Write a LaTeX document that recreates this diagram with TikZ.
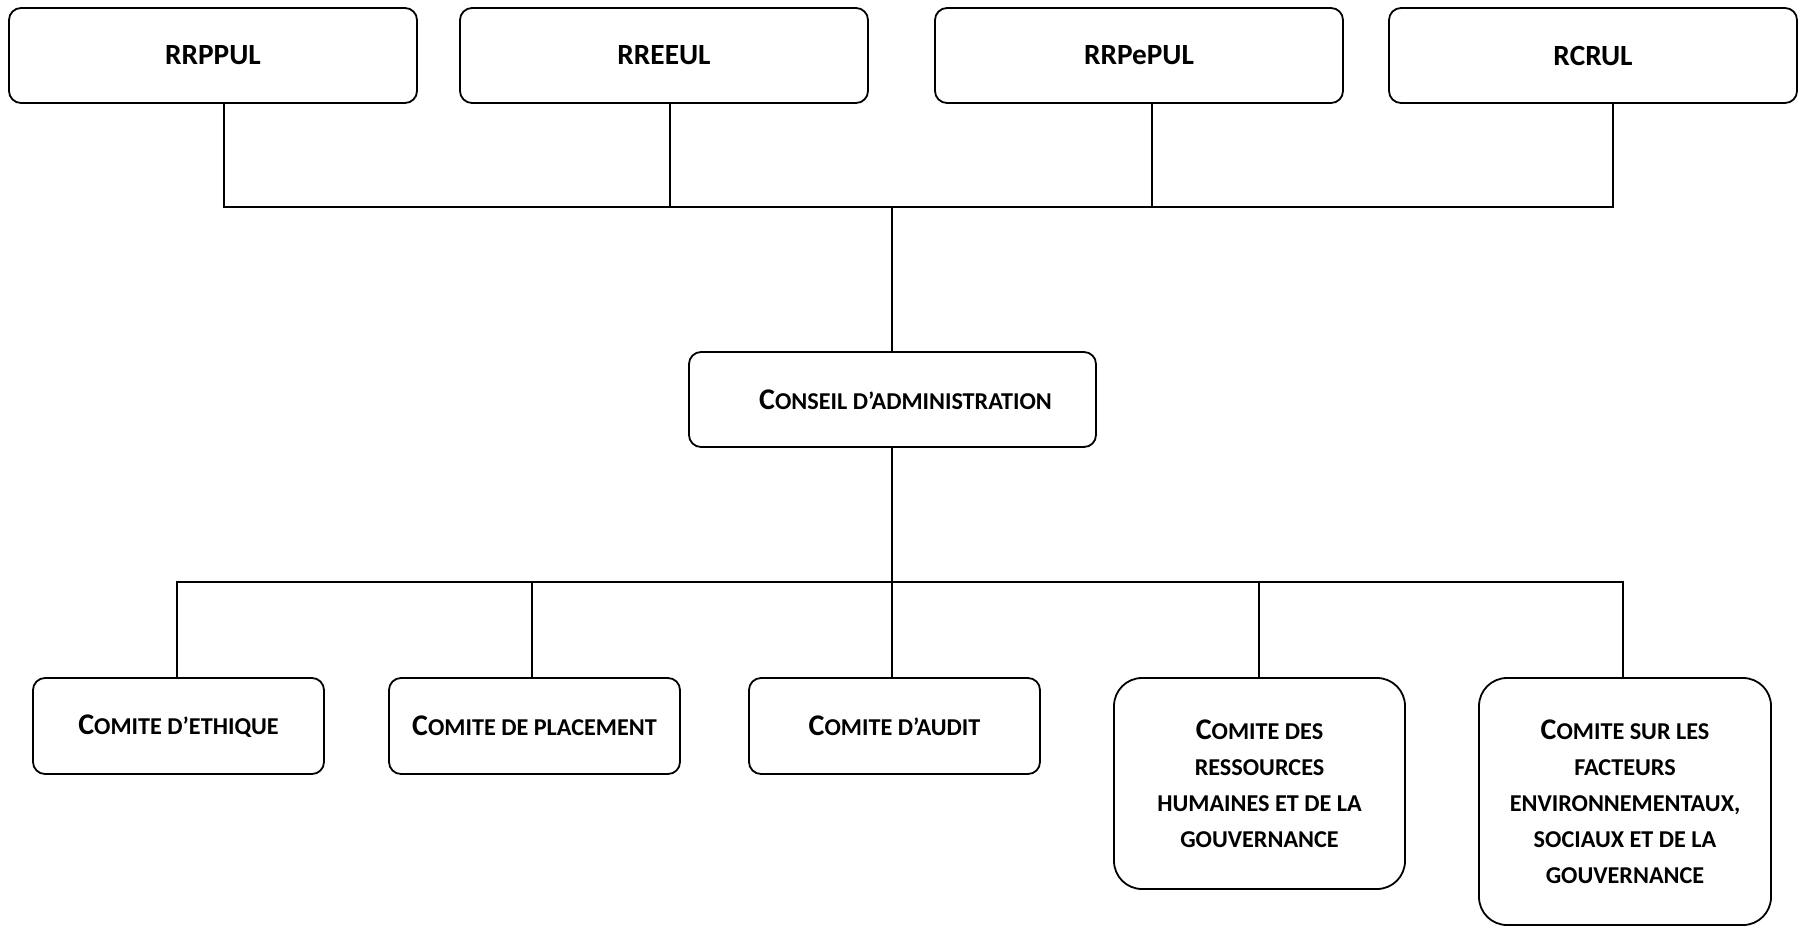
\documentclass[tikz,border=0pt]{standalone}
\usepackage{fontspec}
\setmainfont{Carlito}
\usepackage{tikz}

% large first letter of a small-caps title
\newcommand{\initcap}[1]{{\fontsize{30}{36}\selectfont #1}}

\begin{document}
\begin{tikzpicture}[x=1pt, y=-1pt, every node/.style={transform shape}]
    % Styles
    \tikzstyle{regime} = [rectangle, draw=black, line width=1.8pt, rounded corners=12pt, minimum width=408pt, minimum height=95pt, inner sep=0pt, align=center, font=\bfseries\fontsize{29.3}{36}\selectfont]
    \tikzstyle{comite} = [rectangle, draw=black, line width=1.8pt, rounded corners=12pt, minimum width=291pt, minimum height=96pt, inner sep=0pt, align=center, font=\bfseries\fontsize{24.2}{36}\selectfont]
    \tikzstyle{link} = [line width=1.8pt, line cap=rect]

    \useasboundingbox (0,0) rectangle (1803,926);

    % Nodes - regimes
    \node[regime] (RRPPUL) at (213, 55.5) {RRPPUL};
    \node[regime] (RREEUL) at (664, 55.5) {RREEUL};
    \node[regime] (RRPePUL) at (1139, 55.5) {RRPePUL};
    \node[regime] (RCRUL) at (1593, 55.5) {RCRUL};

    % Nodes - conseil
    \node[comite, minimum width=407pt, minimum height=95pt] (CA) at (892.5, 399.5) {\hspace*{26pt}\initcap{C}ONSEIL D’ADMINISTRATION};

    % Nodes - comites
    \node[comite] (ETH) at (178.5, 726) {\initcap{C}OMITE D’ETHIQUE};
    \node[comite] (PLA) at (534.5, 726) {\initcap{C}OMITE DE PLACEMENT};
    \node[comite] (AUD) at (894.5, 726) {\initcap{C}OMITE D’AUDIT};
    \node[comite, minimum height=211pt, rounded corners=28pt] (RH) at (1259.5, 783.5) {\initcap{C}OMITE DES\\RESSOURCES\\HUMAINES ET DE LA\\GOUVERNANCE};
    \node[comite, minimum width=292pt, minimum height=247pt, rounded corners=28pt] (ESG) at (1625, 801.5) {\initcap{C}OMITE SUR LES\\FACTEURS\\ENVIRONNEMENTAUX,\\SOCIAUX ET DE LA\\GOUVERNANCE};

    % Bus points
    \coordinate (t0) at (892, 207);
    \coordinate (t1) at (224, 207);
    \coordinate (t2) at (670, 207);
    \coordinate (t3) at (1152, 207);
    \coordinate (t4) at (1613, 207);
    \coordinate (b0) at (892, 582);
    \coordinate (b1) at (177, 582);
    \coordinate (b2) at (532, 582);
    \coordinate (b3) at (1259, 582);
    \coordinate (b4) at (1623, 582);

    % Lines - top
    \draw[link] (RRPPUL.south -| t1) -- (t1);
    \draw[link] (RREEUL.south -| t2) -- (t2);
    \draw[link] (RRPePUL.south -| t3) -- (t3);
    \draw[link] (RCRUL.south -| t4) -- (t4);
    \draw[link] (t1) -- (t4);
    \draw[link] (t0) -- (CA.north -| t0);

    % Lines - bottom
    \draw[link] (CA.south -| b0) -- (b0);
    \draw[link] (b1) -- (b4);
    \draw[link] (b1) -- (ETH.north -| b1);
    \draw[link] (b2) -- (PLA.north -| b2);
    \draw[link] (b0) -- (AUD.north -| b0);
    \draw[link] (b3) -- (RH.north -| b3);
    \draw[link] (b4) -- (ESG.north -| b4);
\end{tikzpicture}
\end{document}
